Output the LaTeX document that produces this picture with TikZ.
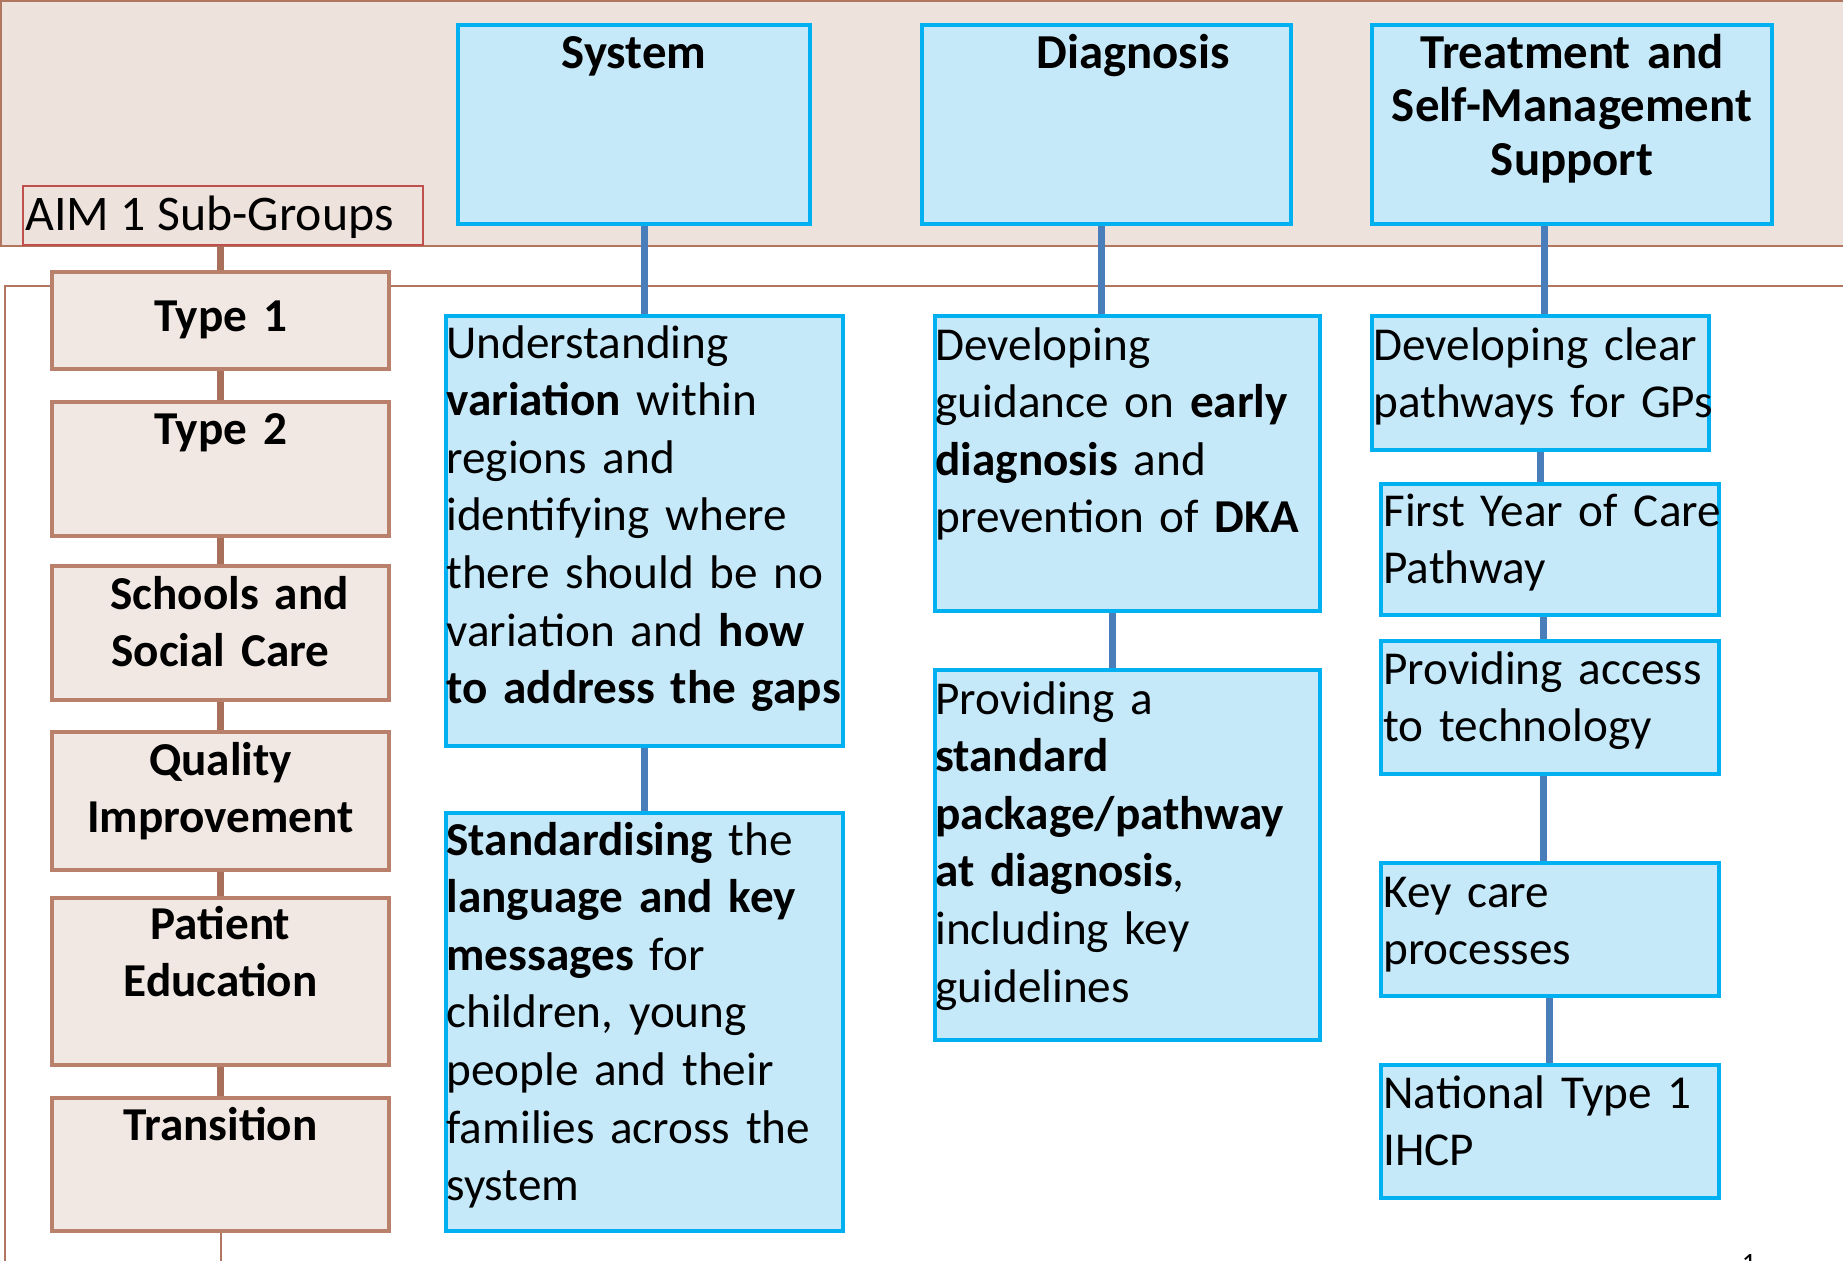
\documentclass[tikz,border=0pt]{standalone}
\usepackage{fontspec}
\setmainfont{Carlito}
\usetikzlibrary{fit}
\definecolor{bandfill}{HTML}{EEE2DC}
\definecolor{banddraw}{HTML}{B0765F}
\definecolor{tanfill}{HTML}{F2E8E3}
\definecolor{tandraw}{HTML}{B9806B}
\definecolor{tanline}{HTML}{A8705A}
\definecolor{bluefill}{HTML}{C6E9F9}
\definecolor{bluedraw}{HTML}{00B0F0}
\definecolor{blueline}{HTML}{4A7EBB}
\definecolor{aimred}{HTML}{C0504D}
\newcommand{\tightsp}{\spaceskip=0.23em\relax}
\begin{document}
\begin{tikzpicture}[x=0.5pt,y=-0.5pt,
  bluebox/.style={draw=bluedraw, line width=2pt, fill=bluefill, inner sep=0pt},
  tanbox/.style={draw=tandraw, line width=2pt, fill=tanfill, inner sep=0pt},
  body/.style={anchor=base west, inner sep=0pt, align=left, text width=230pt, font=\fontsize{23.6}{28.8}\selectfont\tightsp},
  head/.style={anchor=base, inner sep=0pt, align=center, text width=200pt, font=\bfseries\fontsize{24.4}{26.8}\selectfont\tightsp},
  side/.style={anchor=base, inner sep=0pt, align=center, text width=165pt, font=\bfseries\fontsize{23.6}{28.8}\selectfont\tightsp},
  bline/.style={draw=blueline, line width=3.5pt},
  tline/.style={draw=tanline, line width=3.8pt},
  thinline/.style={draw=banddraw, line width=1pt}]
\useasboundingbox (0,0) rectangle (1843,1260);
\clip (0,0) rectangle (1843,1260);
% band
\path[fill=bandfill, draw=banddraw, line width=1.25pt] (1,1) rectangle (1880,246);
% frame
\coordinate (frA) at (1880,286);
\coordinate (frB) at (5,286);
\coordinate (frC) at (5,1290);
\draw[thinline] (frA) -- (frB) -- (frC);
% aim label
\node[draw=aimred, line width=1pt, inner sep=0pt, fit={(23,186) (423,245)}] (aim) {};
\node[anchor=base west, inner sep=0pt, font=\fontsize{24.9}{30}\selectfont\tightsp] (aimT) at (25,230) {AIM 1 Sub-Groups};
% header boxes
\node[bluebox, fit={(458,25) (810,224)}] (sys) {};
\node[bluebox, fit={(922,25) (1291,224)}] (diag) {};
\node[bluebox, fit={(1372,25) (1772,224)}] (treat) {};
% content boxes
\node[bluebox, fit={(446,316) (843,746)}] (und) {};
\node[bluebox, fit={(446,813) (843,1231)}] (std) {};
\node[bluebox, fit={(935,316) (1320,611)}] (dev) {};
\node[bluebox, fit={(935,670) (1320,1040)}] (prov) {};
\node[bluebox, fit={(1372,316) (1709,450)}] (gps) {};
\node[bluebox, fit={(1381,484) (1719,615)}] (fyc) {};
\node[bluebox, fit={(1381,641) (1719,774)}] (tech) {};
\node[bluebox, fit={(1381,863) (1719,996)}] (kcp) {};
\node[bluebox, fit={(1381,1065) (1719,1198)}] (ihcp) {};
% left boxes
\node[tanbox, fit={(52,272) (389,369)}] (t1) {};
\node[tanbox, fit={(52,402) (389,536)}] (t2) {};
\node[tanbox, fit={(52,566) (389,700)}] (sch) {};
\node[tanbox, fit={(52,732) (389,870)}] (qi) {};
\node[tanbox, fit={(52,898) (389,1065)}] (pe) {};
\node[tanbox, fit={(52,1098) (389,1231)}] (tr) {};
% left connectors
\draw[tline] (aim.south -| t1.north) -- (t1.north);
\draw[tline] (t1.south) -- (t2.north);
\draw[tline] (t2.south) -- (sch.north);
\draw[tline] (sch.south) -- (qi.north);
\draw[tline] (qi.south) -- (pe.north);
\draw[tline] (pe.south) -- (tr.north);
\coordinate (trEnd) at (220.5,1290);
\draw[thinline] (tr.south) -- (trEnd);
% blue connectors
\coordinate (cx1) at (1101,0);
\coordinate (cx2) at (1112,0);
\coordinate (cx3) at (1544,0);
\coordinate (cx4) at (1540,0);
\coordinate (cx5) at (1543,0);
\coordinate (cx6) at (1549,0);
\draw[bline] (sys.south -| und.north) -- (und.north);
\draw[bline] (und.south) -- (std.north);
\draw[bline] (diag.south -| cx1) -- (dev.north -| cx1);
\draw[bline] (dev.south -| cx2) -- (prov.north -| cx2);
\draw[bline] (treat.south -| cx3) -- (gps.north -| cx3);
\draw[bline] (gps.south -| cx4) -- (fyc.north -| cx4);
\draw[bline] (fyc.south -| cx5) -- (tech.north -| cx5);
\draw[bline] (tech.south -| cx5) -- (kcp.north -| cx5);
\draw[bline] (kcp.south -| cx6) -- (ihcp.north -| cx6);
% header texts
\node[head] (sysT) at (634,68) {System};
\node[head] (diagT) at (1133,68) {Diagnosis};
\node[head] (treatT) at (1572,68) {Treatment and\\Self-Management\\Support};
% body texts
\node[body] (undT) at (446,358) {Understanding\\\textbf{variation} within\\regions and\\identifying where\\there should be no\\variation and \textbf{how}\\\textbf{to address the gaps}};
\node[body] (stdT) at (446,855) {\textbf{Standardising} the\\\textbf{language and key}\\\textbf{messages} for\\children, young\\people and their\\families across the\\system};
\node[body] (devT) at (935,360) {Developing\\guidance on \textbf{early}\\\textbf{diagnosis} and\\prevention of \textbf{DKA}};
\node[body] (provT) at (935,714) {Providing a\\\textbf{standard}\\\textbf{package/pathway}\\\textbf{at diagnosis},\\including key\\guidelines};
\node[body] (gpsT) at (1373,360) {Developing clear\\pathways for GPs};
\node[body] (fycT) at (1383,526) {First Year of Care\\Pathway};
\node[body] (techT) at (1383,684) {Providing access\\to technology};
\node[body] (kcpT) at (1383,907) {Key care\\processes};
\node[body] (ihcpT) at (1383,1108) {National Type 1\\IHCP};
% left texts
\node[side] (t1T) at (220.5,331) {Type 1};
\node[side] (t2T) at (220.5,444) {Type 2};
\node[side] (schT) at (220.5,609) {\hspace*{9pt}Schools and\\Social Care};
\node[side] (qiT) at (220.5,775) {Quality\\Improvement};
\node[side] (peT) at (220.5,939) {Patient\\Education};
\node[side] (trT) at (220.5,1140) {Transition};
% page number fragment
\node[anchor=north, inner sep=0pt, font=\fontsize{14}{14}\selectfont] (pg) at (1749,1254) {1};
\end{tikzpicture}
\end{document}
